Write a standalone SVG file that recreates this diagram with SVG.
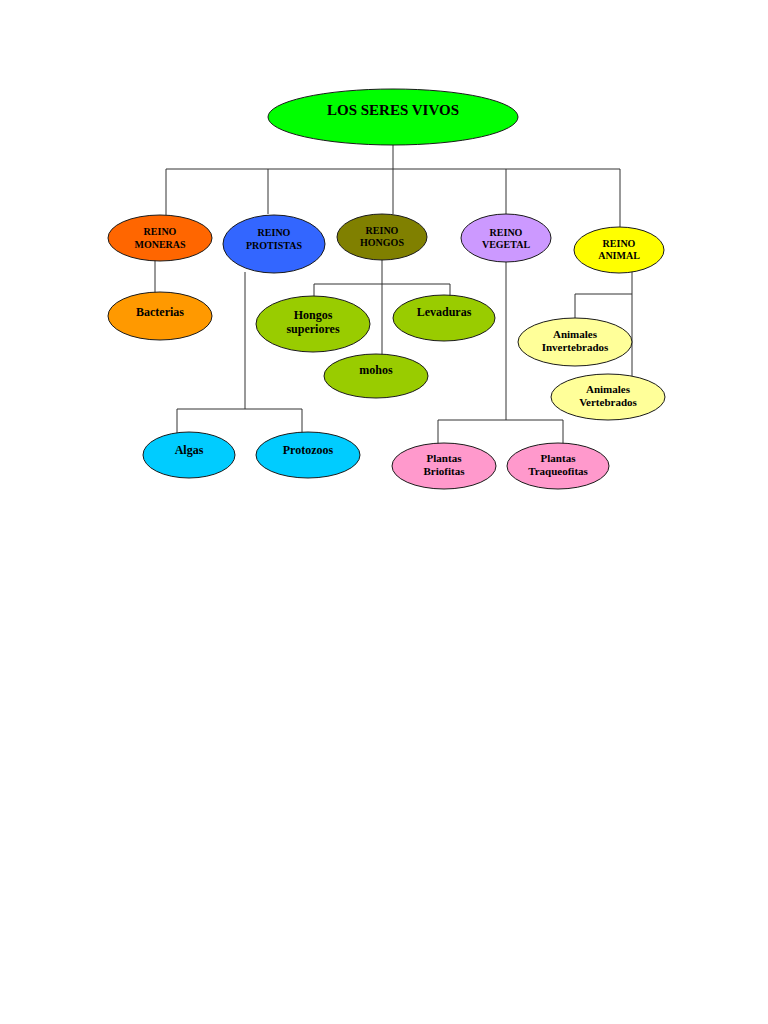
<svg xmlns="http://www.w3.org/2000/svg" width="768" height="1024" viewBox="0 0 768 1024">
<style>
.n{stroke:#1a1a1a;stroke-width:1}
.t{font-family:"Liberation Serif","Times New Roman",serif;font-weight:bold;font-size:10px;fill:#000;text-anchor:middle}
.l{font-family:"Liberation Serif","Times New Roman",serif;font-weight:bold;font-size:12px;fill:#000;text-anchor:middle}
.s{font-family:"Liberation Serif","Times New Roman",serif;font-weight:bold;font-size:11px;fill:#000;text-anchor:middle}
.ti{font-family:"Liberation Serif","Times New Roman",serif;font-weight:bold;font-size:15px;fill:#000;text-anchor:middle}
.c{fill:none;stroke:#333;stroke-width:1}
</style>
<rect width="768" height="1024" fill="#fff"/>
<g id="connectors">
<path class="c" d="M393 145V169M166 169H620M166 169V215M268 169V214M393 169V214M506 169V214M620 169V227"/>
<path class="c" d="M155 260V293"/>
<path class="c" d="M245 272V409M177 409H302M177 409V433M302 409V433"/>
<path class="c" d="M382 260V355M314 284H450M314 284V297M450 284V296"/>
<path class="c" d="M506 262V420M438 420H563M438 420V444M563 420V444"/>
<path class="c" d="M632 266V376M575 294H632M575 294V318"/>
</g>
<g id="root"><ellipse class="n" cx="393" cy="117" rx="125" ry="28" fill="#00FF00"/><text class="ti" x="393" y="115">LOS SERES VIVOS</text></g>
<g id="moneras"><ellipse class="n" cx="160" cy="238" rx="52" ry="23" fill="#FF6600"/><text class="t" x="160" y="235">REINO</text><text class="t" x="160" y="248">MONERAS</text></g>
<g id="protistas"><ellipse class="n" cx="274" cy="244" rx="51" ry="29" fill="#3366FF"/><text class="t" x="274" y="236">REINO</text><text class="t" x="274" y="249">PROTISTAS</text></g>
<g id="hongos"><ellipse class="n" cx="382" cy="237" rx="45" ry="23" fill="#808000"/><text class="t" x="382" y="234">REINO</text><text class="t" x="382" y="246">HONGOS</text></g>
<g id="vegetal"><ellipse class="n" cx="506" cy="238" rx="45" ry="24" fill="#CC99FF"/><text class="t" x="506" y="236">REINO</text><text class="t" x="506" y="248">VEGETAL</text></g>
<g id="animal"><ellipse class="n" cx="619" cy="250" rx="45" ry="23" fill="#FFFF00"/><text class="t" x="619" y="247">REINO</text><text class="t" x="619" y="259">ANIMAL</text></g>
<g id="bacterias"><ellipse class="n" cx="160" cy="316" rx="52" ry="24" fill="#FF9900"/><text class="l" x="160" y="316">Bacterias</text></g>
<g id="algas"><ellipse class="n" cx="189" cy="455" rx="46" ry="23" fill="#00CCFF"/><text class="l" x="189" y="454">Algas</text></g>
<g id="protozoos"><ellipse class="n" cx="308" cy="455" rx="52" ry="23" fill="#00CCFF"/><text class="l" x="308" y="454">Protozoos</text></g>
<g id="hongos-superiores"><ellipse class="n" cx="313" cy="324" rx="57" ry="28" fill="#99CC00"/><text class="l" x="313" y="319">Hongos</text><text class="l" x="313" y="333">superiores</text></g>
<g id="levaduras"><ellipse class="n" cx="444" cy="318" rx="51" ry="23" fill="#99CC00"/><text class="l" x="444" y="316">Levaduras</text></g>
<g id="mohos"><ellipse class="n" cx="376" cy="376" rx="52" ry="22" fill="#99CC00"/><text class="l" x="376" y="374">mohos</text></g>
<g id="briofitas"><ellipse class="n" cx="444" cy="466" rx="52" ry="23" fill="#FF99CC"/><text class="s" x="444" y="462">Plantas</text><text class="s" x="444" y="475">Briofitas</text></g>
<g id="traqueofitas"><ellipse class="n" cx="558" cy="466" rx="51" ry="23" fill="#FF99CC"/><text class="s" x="558" y="462">Plantas</text><text class="s" x="558" y="475">Traqueofitas</text></g>
<g id="invertebrados"><ellipse class="n" cx="575" cy="342" rx="57" ry="24" fill="#FFFF99"/><text class="s" x="575" y="338">Animales</text><text class="s" x="575" y="351">Invertebrados</text></g>
<g id="vertebrados"><ellipse class="n" cx="608" cy="397" rx="57" ry="23" fill="#FFFF99"/><text class="s" x="608" y="393">Animales</text><text class="s" x="608" y="406">Vertebrados</text></g>
</svg>
